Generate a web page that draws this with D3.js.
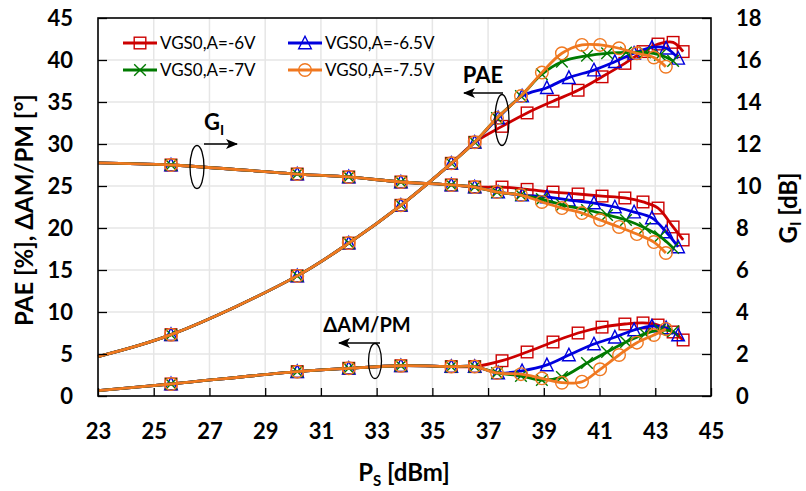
<!DOCTYPE html>
<html><head><meta charset="utf-8">
<script src="https://cdn.jsdelivr.net/npm/d3@7/dist/d3.min.js"></script>
<style>
html,body{margin:0;padding:0;background:#fff;}
svg{display:block;font-family:Lato,"Open Sans",sans-serif;}
</style></head>
<body><svg id="chart" width="806" height="491"></svg>
<script>
// ---------- data ----------
const seriesNames = ["VGS0,A=-6V","VGS0,A=-6.5V","VGS0,A=-7V","VGS0,A=-7.5V"];
const xCommon    = [23, 25.62, 30.15, 32.0, 33.87, 35.68, 36.52];
const paeCommon  = [4.7, 7.3, 14.3, 18.2, 22.7, 27.7, 30.2];
const ampmCommon = [0.63, 1.43, 2.9, 3.3, 3.6, 3.5, 3.5];
const gainCommon = [11.1, 11.0, 10.57, 10.43, 10.19, 10.05, 9.95];

const xRed    = [37.50, 38.40, 39.33, 40.23, 41.09, 41.91, 42.56, 43.10, 43.64, 44.00];
const paeRed  = [32.1, 33.7, 35.1, 36.4, 38.0, 39.6, 41.0, 41.9, 42.1, 41.0];
const ampmRed = [4.2, 5.24, 6.43, 7.5, 8.2, 8.57, 8.7, 8.45, 7.62, 6.67];
const gainRed = [9.95, 9.84, 9.71, 9.62, 9.52, 9.43, 9.24, 8.95, 8.05, 7.43];

const xBlue    = [37.36, 38.22, 39.11, 39.90, 40.80, 41.55, 42.24, 42.88, 43.39, 43.82];
const paeBlue  = [33.1, 35.7, 36.7, 37.9, 38.8, 39.8, 40.8, 41.5, 41.4, 40.2];
const ampmBlue = [2.74, 3.0, 3.7, 4.88, 6.19, 7.0, 7.86, 8.33, 8.1, 7.26];
const gainBlue = [9.71, 9.57, 9.48, 9.33, 9.19, 9.0, 8.76, 8.48, 7.81, 7.1];

const xGreen    = [37.32, 38.18, 38.93, 39.65, 40.55, 41.27, 41.95, 42.63, 43.17, 43.64];
const paeGreen  = [33.1, 35.7, 38.3, 39.8, 40.5, 40.8, 40.9, 40.9, 40.6, 39.9];
const ampmGreen = [2.74, 2.4, 1.9, 2.26, 3.93, 5.24, 6.43, 7.4, 7.86, 7.7];
const gainGreen = [9.71, 9.57, 9.38, 9.1, 8.86, 8.62, 8.38, 8.0, 7.6, 7.05];

const xOrange    = [37.32, 38.18, 38.93, 39.65, 40.37, 41.02, 41.70, 42.34, 42.95, 43.38];
const paeOrange  = [33.1, 35.7, 38.5, 40.8, 41.8, 41.8, 41.4, 40.8, 40.3, 39.2];
const ampmOrange = [2.74, 2.6, 2.1, 1.58, 1.7, 3.18, 4.88, 6.35, 7.26, 7.98];
const gainOrange = [9.71, 9.57, 9.24, 8.95, 8.71, 8.38, 8.05, 7.71, 7.33, 6.81];

const xTicks = [23,25,27,29,31,33,35,37,39,41,43,45];
const leftTicks = [0,5,10,15,20,25,30,35,40,45];
const rightTicks = [0,2,4,6,8,10,12,14,16,18];

// ---------- styles ----------
const colors = ["#CC0000","#0000DD","#007A00","#F07820"];
const shapes = ["square","triangle","cross","circle"];

const series = [
  {x:xRed, pae:paeRed, ampm:ampmRed, gain:gainRed},
  {x:xBlue, pae:paeBlue, ampm:ampmBlue, gain:gainBlue},
  {x:xGreen, pae:paeGreen, ampm:ampmGreen, gain:gainGreen},
  {x:xOrange, pae:paeOrange, ampm:ampmOrange, gain:gainOrange}
].map((s,i)=>({
  name: seriesNames[i], color: colors[i], shape: shapes[i],
  x: xCommon.concat(s.x),
  pae: paeCommon.concat(s.pae),
  ampm: ampmCommon.concat(s.ampm),
  gain: gainCommon.concat(s.gain)
}));

const svg = d3.select("#chart");
const m = {l:98, r:711, t:18, b:396};
const x = d3.scaleLinear().domain([23,45]).range([m.l,m.r]);
const yL = d3.scaleLinear().domain([0,45]).range([m.b,m.t]);
const yR = d3.scaleLinear().domain([0,18]).range([m.b,m.t]);

svg.append("rect").attr("width",806).attr("height",491).attr("fill","#fff");

// grid
const grid = svg.append("g").attr("stroke","#E6E6E6").attr("stroke-width",1.5);
grid.selectAll(".gv").data(xTicks.slice(1,-1)).enter().append("line")
  .attr("x1",d=>x(d)).attr("x2",d=>x(d)).attr("y1",m.t).attr("y2",m.b);
grid.selectAll(".gh").data(leftTicks.slice(1,-1)).enter().append("line")
  .attr("y1",d=>yL(d)).attr("y2",d=>yL(d)).attr("x1",m.l).attr("x2",m.r);

// marker drawing
function drawMarker(g, shape, color, cx, cy){
  const s = 5.8;
  if(shape==="square"){
    g.append("rect").attr("x",cx-s).attr("y",cy-s).attr("width",2*s).attr("height",2*s)
      .attr("fill","none").attr("stroke",color).attr("stroke-width",1.4);
  } else if(shape==="triangle"){
    g.append("path").attr("d",`M${cx},${cy-s-1}L${cx+s+0.5},${cy+s}L${cx-s-0.5},${cy+s}Z`)
      .attr("fill","none").attr("stroke",color).attr("stroke-width",1.4);
  } else if(shape==="cross"){
    g.append("path").attr("d",`M${cx-s},${cy-s}L${cx+s},${cy+s}M${cx-s},${cy+s}L${cx+s},${cy-s}`)
      .attr("fill","none").attr("stroke",color).attr("stroke-width",1.4);
  } else {
    g.append("circle").attr("cx",cx).attr("cy",cy).attr("r",s+0.5)
      .attr("fill","none").attr("stroke",color).attr("stroke-width",1.4);
  }
}

const curve = d3.curveCatmullRom.alpha(0.5);
const plot = svg.append("g");
const groups = [["pae",yL],["ampm",yL],["gain",yR]];
series.forEach(s=>{
  groups.forEach(([key,ys])=>{
    const pts = s.x.map((xv,i)=>[xv,s[key][i]]);
    plot.append("path").attr("d",d3.line().x(d=>x(d[0])).y(d=>ys(d[1])).curve(curve)(pts))
      .attr("fill","none").attr("stroke",s.color).attr("stroke-width",2.8);
    const mg = plot.append("g");
    pts.slice(1).forEach(p=>drawMarker(mg,s.shape,s.color,x(p[0]),ys(p[1])));
  });
});

// frame
svg.append("rect").attr("x",m.l).attr("y",m.t).attr("width",m.r-m.l).attr("height",m.b-m.t)
  .attr("fill","none").attr("stroke","#000").attr("stroke-width",1.6);

// axes
const tickFont = g=>{
  g.select(".domain").remove();
  g.selectAll(".tick line").attr("stroke","#000").attr("stroke-width",1.3);
  g.selectAll("text").attr("font-family","Lato, sans-serif").attr("font-weight","bold")
   .attr("font-size","22px").attr("fill","#000");
};
svg.append("g").attr("transform",`translate(${m.l},0)`)
  .call(d3.axisLeft(yL).tickValues(leftTicks).tickSizeInner(-9).tickSizeOuter(0).tickPadding(25).tickFormat(d3.format("d")))
  .call(tickFont);
svg.append("g").attr("transform",`translate(${m.r},0)`)
  .call(d3.axisRight(yR).tickValues(rightTicks).tickSizeInner(-9).tickSizeOuter(0).tickPadding(25).tickFormat(d3.format("d")))
  .call(tickFont);
svg.append("g").attr("transform",`translate(0,${m.b})`)
  .call(d3.axisBottom(x).tickValues(xTicks).tickSizeInner(-8).tickSizeOuter(0).tickPadding(27).tickFormat(d3.format("d")))
  .call(tickFont);

// axis titles
const bold = sel=>sel.attr("font-family","Lato, sans-serif").attr("font-weight","bold").attr("fill","#000");
const xt = svg.append("text").attr("x",404).attr("y",481).attr("text-anchor","middle")
  .attr("font-size","24px").call(bold);
xt.append("tspan").text("P");
xt.append("tspan").text("S").attr("font-size","15px").attr("dy",5);
xt.append("tspan").text(" [dBm]").attr("dy",-5);

svg.append("text").attr("transform","translate(33,210) rotate(-90)").attr("text-anchor","middle")
  .attr("font-size","24px").call(bold).text("PAE [%], ΔAM/PM [°]");

const rt = svg.append("text").attr("transform","translate(797,208) rotate(-90)").attr("text-anchor","middle")
  .attr("font-size","24px").call(bold);
rt.append("tspan").text("G");
rt.append("tspan").text("I").attr("font-size","15px").attr("dy",4);
rt.append("tspan").text(" [dB]").attr("dy",-4);

// legend
const leg = svg.append("g");
const legPos = [[123,43],[288,43],[123,70],[288,70]];
series.forEach((s,i)=>{
  const [lx,ly] = legPos[i];
  leg.append("line").attr("x1",lx).attr("x2",lx+34).attr("y1",ly).attr("y2",ly)
    .attr("stroke",s.color).attr("stroke-width",2.8);
  drawMarker(leg,s.shape,s.color,lx+17,ly);
  leg.append("text").attr("x",lx+37).attr("y",ly+6).attr("font-size","17px")
    .attr("font-family","Lato, sans-serif").attr("fill","#000").text(s.name);
});

// annotations
const defs = svg.append("defs");
defs.append("marker").attr("id","arr").attr("viewBox","0 0 12 10").attr("refX",11).attr("refY",5)
  .attr("markerWidth",12).attr("markerHeight",10).attr("markerUnits","userSpaceOnUse").attr("orient","auto")
  .append("path").attr("d","M0,0L12,5L0,10L3,5Z").attr("fill","#000");

function annot(cx,cy,rx,ry,x1,y1,x2,y2){
  svg.append("ellipse").attr("cx",cx).attr("cy",cy).attr("rx",rx).attr("ry",ry)
    .attr("fill","none").attr("stroke","#000").attr("stroke-width",1.3);
  svg.append("line").attr("x1",x1).attr("y1",y1).attr("x2",x2).attr("y2",y2)
    .attr("stroke","#000").attr("stroke-width",1.3).attr("marker-end","url(#arr)");
}
annot(502,120,7,25.5, 503,93, 464,93);
annot(197,167,7,21.5, 204,144, 237,144);
annot(375,361,6.5,17.5, 380,343, 339,343);

svg.append("text").attr("x",483).attr("y",83).attr("text-anchor","middle").attr("font-size","22px").call(bold).text("PAE");
const gl = svg.append("text").attr("x",204).attr("y",130).attr("font-size","22px").call(bold);
gl.append("tspan").text("G");
gl.append("tspan").text("I").attr("font-size","14px").attr("dy",5);
svg.append("text").attr("x",367).attr("y",332).attr("text-anchor","middle").attr("font-size","20px").call(bold).text("ΔAM/PM");
</script></body></html>
